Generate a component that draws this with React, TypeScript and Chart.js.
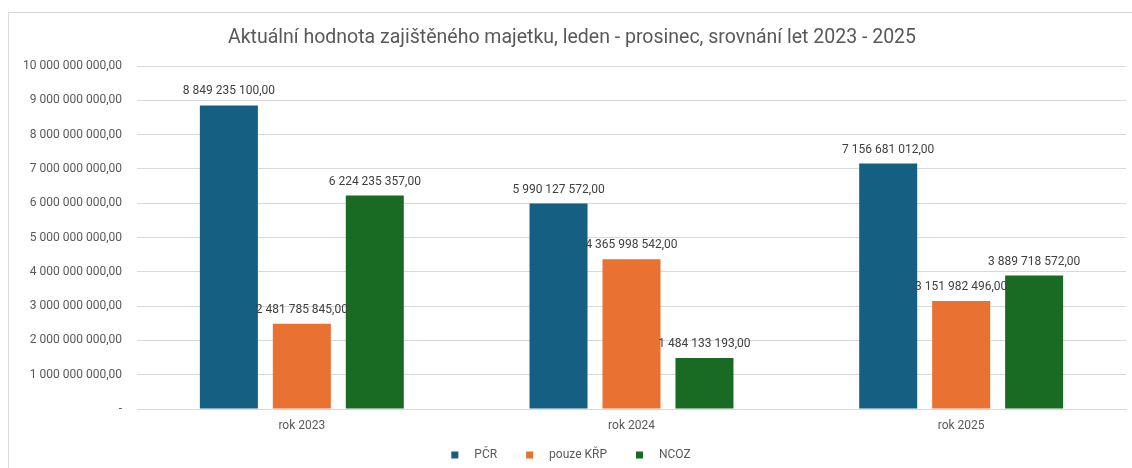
import React, { useEffect, useRef } from "react";
import { Chart, registerables } from "chart.js";

Chart.register(...registerables);

const TITLE = "Aktuální hodnota zajištěného majetku, leden - prosinec, srovnání let 2023 - 2025";
const categories = ["rok 2023", "rok 2024", "rok 2025"];
const seriesNames = ["PČR", "pouze KŘP", "NCOZ"];
const seriesColors = ["#156082", "#E97132", "#196B24"];
const pcrValues = [8849235100, 5990127572, 7156681012];
const krpValues = [2481785845, 4365998542, 3151982496];
const ncozValues = [6224235357, 1484133193, 3889718572];
const yMax = 10000000000;
const yStep = 1000000000;

const FONT = "Roboto, 'Liberation Sans', sans-serif";

function fmt(v: number): string {
  if (v === 0) return "-";
  const s = Math.round(v).toString().replace(/\B(?=(\d{3})+(?!\d))/g, " ");
  return s + ",00";
}

const frame = {
  id: "frame",
  beforeDraw(chart: any) {
    const ctx = chart.ctx;
    ctx.save();
    ctx.strokeStyle = "#d9d9d9";
    ctx.lineWidth = 1;
    ctx.strokeRect(8.5, 12.5, 1300, 600);
    ctx.restore();
  },
};

const titlePlugin = {
  id: "titlePlugin",
  afterDraw(chart: any) {
    const ctx = chart.ctx;
    ctx.save();
    ctx.font = `19.5px ${FONT}`;
    ctx.fillStyle = "#595959";
    ctx.textAlign = "center";
    ctx.textBaseline = "middle";
    ctx.fillText(TITLE, 572, 38);
    ctx.restore();
  },
};

const dataLabels = {
  id: "dataLabels",
  afterDatasetsDraw(chart: any) {
    const ctx = chart.ctx;
    ctx.save();
    ctx.font = `12px ${FONT}`;
    ctx.fillStyle = "#404040";
    ctx.textAlign = "center";
    ctx.textBaseline = "middle";
    chart.data.datasets.forEach((ds: any, i: number) => {
      const meta = chart.getDatasetMeta(i);
      meta.data.forEach((el: any, j: number) => {
        ctx.fillText(fmt(ds.data[j]), el.x, el.y - 14);
      });
    });
    ctx.restore();
  },
};

const customLegend = {
  id: "customLegend",
  afterDraw(chart: any) {
    const ctx = chart.ctx;
    ctx.save();
    ctx.font = `12px ${FONT}`;
    ctx.textBaseline = "middle";
    ctx.textAlign = "left";
    const box = 7;
    const gap = 16;
    const itemGap = 29;
    const ds = chart.data.datasets;
    const widths = ds.map((d: any) => box + gap + ctx.measureText(d.label).width);
    const total = widths.reduce((a: number, b: number) => a + b, 0) + itemGap * (ds.length - 1);
    let x = 571 - total / 2;
    const y = 455;
    ds.forEach((d: any, i: number) => {
      ctx.fillStyle = d.backgroundColor;
      ctx.fillRect(x, y - box / 2, box, box);
      ctx.fillStyle = "#595959";
      ctx.fillText(d.label, x + box + gap, y);
      x += widths[i] + itemGap;
    });
    ctx.restore();
  },
};

export default function App() {
  const ref = useRef<HTMLCanvasElement>(null);
  useEffect(() => {
    if (!ref.current) return;
    const values = [pcrValues, krpValues, ncozValues];
    const chart = new Chart(ref.current, {
      type: "bar",
      data: {
        labels: categories,
        datasets: seriesNames.map((n, i) => ({
          label: n,
          data: values[i],
          backgroundColor: seriesColors[i],
          borderWidth: 0,
          categoryPercentage: 0.664,
          barPercentage: 0.795,
        })),
      },
      options: {
        responsive: false,
        animation: false,
        maintainAspectRatio: false,
        layout: { padding: { left: 0, right: 6, top: 66, bottom: 0 } },
        plugins: {
          legend: { display: false },
          tooltip: { enabled: false },
          title: { display: false },
        },
        scales: {
          x: {
            grid: { display: false, drawTicks: false },
            border: { display: true, color: "#d9d9d9" },
            ticks: {
              color: "#595959",
              font: { family: FONT, size: 12 },
              padding: 10,
            },
            afterFit(axis: any) {
              axis.height = 59;
            },
          },
          y: {
            min: 0,
            max: yMax,
            grid: { color: "#d9d9d9", drawTicks: false },
            border: { display: false },
            ticks: {
              stepSize: yStep,
              color: "#595959",
              font: { family: FONT, size: 12 },
              padding: 15,
              callback: (v: any) => fmt(Number(v)),
            },
            afterFit(axis: any) {
              axis.width = 137;
            },
          },
        },
      },
      plugins: [frame, titlePlugin, dataLabels, customLegend],
    });
    return () => chart.destroy();
  }, []);
  return (
    <div style={{ position: "fixed", left: 0, top: 0, width: 1132, height: 468, background: "#fff" }}>
      <canvas ref={ref} width={1132} height={468} style={{ width: 1132, height: 468 }} />
    </div>
  );
}
